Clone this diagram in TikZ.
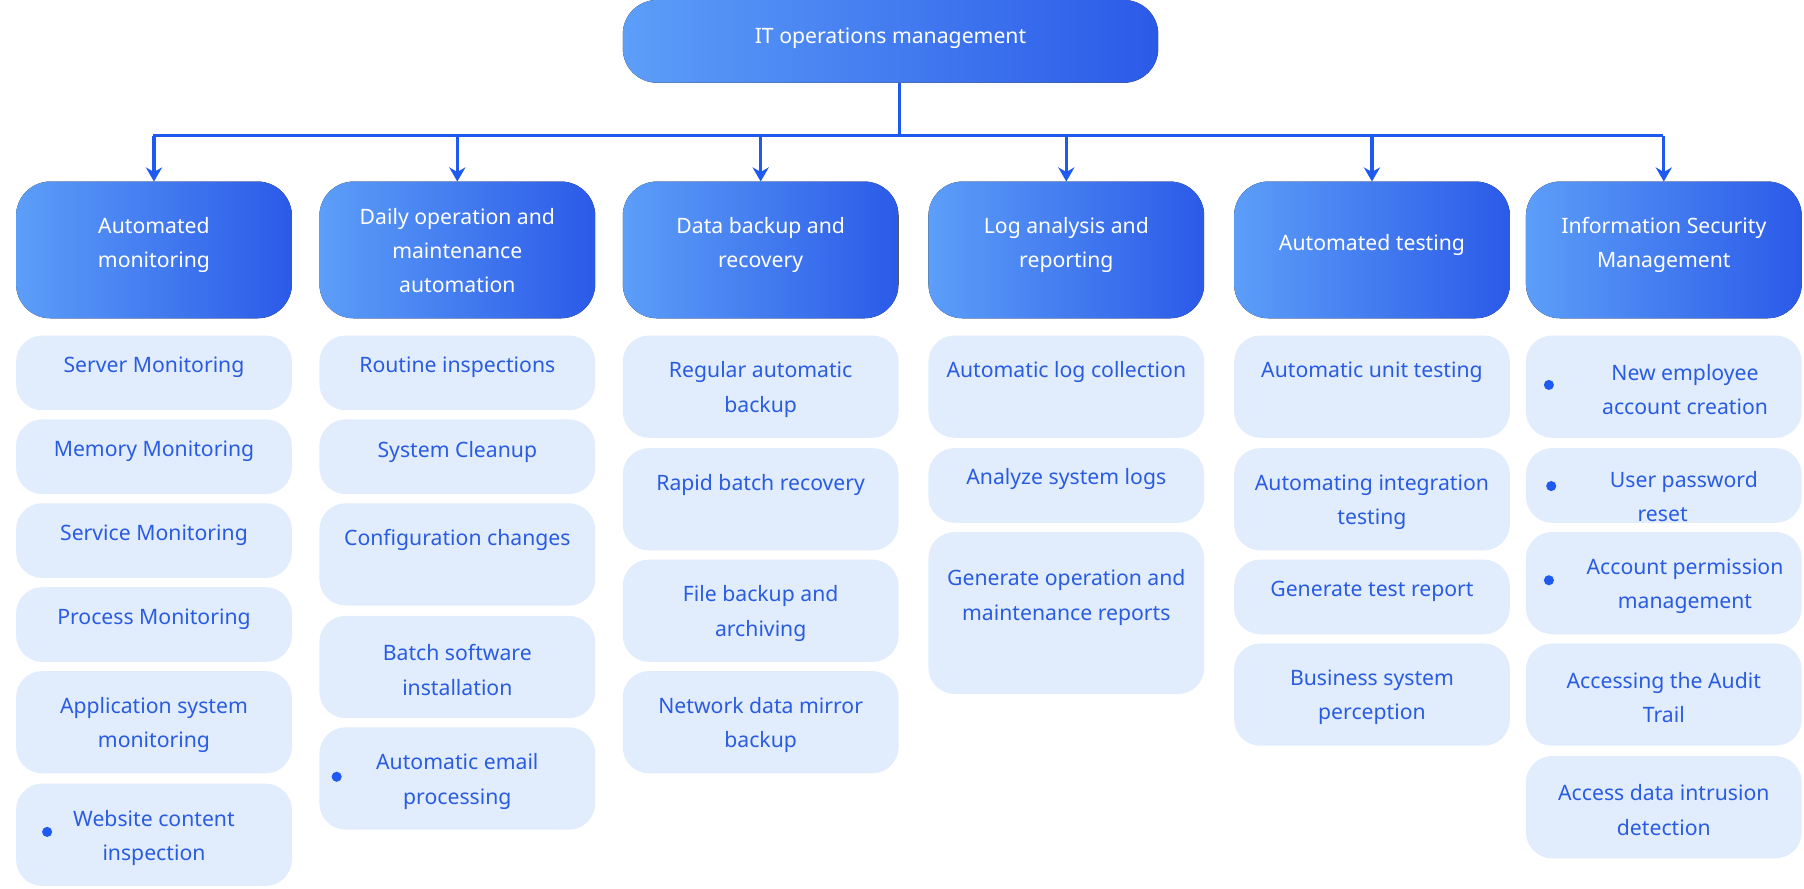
\documentclass[tikz,border=0pt]{standalone}
\usepackage{fontspec}
\setmainfont{Noto Sans}
\usetikzlibrary{positioning,arrows.meta}
\definecolor{hdA}{HTML}{5C9EF8}
\definecolor{hdB}{HTML}{2B5AE8}
\definecolor{itemfill}{HTML}{E1ECFC}
\definecolor{itemtext}{HTML}{2A5CE2}
\definecolor{linkblue}{HTML}{1F5AF0}
\tikzset{
  headbox/.style={rounded corners=17pt, left color=hdA, right color=hdB, draw=none},
  headtext/.style={text=white, align=center, font=\fontsize{10.5}{17}\selectfont},
  itembox/.style={rounded corners=13pt, fill=itemfill, draw=none},
  itemtext/.style={text=itemtext, align=center, font=\fontsize{10.5}{17}\selectfont},
  dot/.style={circle, fill=linkblue, inner sep=0pt, minimum size=5pt},
  link/.style={draw=linkblue, line width=1.6pt},
}
% x, top, bottom, text centre, name, text
\newcommand\subbox[6]{%
  \fill[itembox] (#1,#2) rectangle ++(240,#3-#2);
  \node[itemtext] (#5) at (#1+120,#4) {#6};}
\begin{document}
\begin{tikzpicture}[x=0.02cm,y=-0.02cm]
\useasboundingbox (0,0) rectangle (1570,773);
% top
\fill[headbox] (542,0) rectangle (1008,72);
\node[headtext] (root) at (775,33) {IT operations management};
\coordinate (split) at (783,118);
\draw[link] (783,72) -- (split);
\draw[link] (133,118) -- (1447,118);
% column headers
\foreach \x/\n/\t/\ty in {14/mon/{Automated\\monitoring}/213,
  278/daily/{Daily operation and\\maintenance\\automation}/218,
  542/bak/{Data backup and\\recovery}/213,
  808/log/{Log analysis and\\reporting}/213,
  1074/test/{Automated testing}/213,
  1328/sec/{Information Security\\Management}/213}{
  \fill[headbox] (\x,158) rectangle ++(240,119);
  \node[headtext] (\n) at (\x+120,\ty) {\t};
  \draw[link,-{Stealth[length=7pt,width=8pt]}] (\x+120,118) -- (\x+120,158);
}
% automated monitoring
\subbox{14}{292}{357}{320}{m1}{Server Monitoring}
\subbox{14}{365}{430}{393}{m2}{Memory Monitoring}
\subbox{14}{438}{503}{466}{m3}{Service Monitoring}
\subbox{14}{511}{576}{539}{m4}{Process Monitoring}
\subbox{14}{584}{673}{631}{m5}{Application system\\monitoring}
\subbox{14}{682}{771}{729}{m6}{Website content\\inspection}
\node[dot] at (41,724) {};
% daily operation
\subbox{278}{292}{357}{320}{d1}{Routine inspections}
\subbox{278}{365}{430}{393}{d2}{System Cleanup}
\subbox{278}{438}{527}{470}{d3}{Configuration changes}
\subbox{278}{536}{625}{583}{d4}{Batch software\\installation}
\subbox{278}{633}{722}{680}{d5}{Automatic email\\processing}
\node[dot] at (293,676) {};
% backup
\subbox{542}{292}{381}{339}{b1}{Regular automatic\\backup}
\subbox{542}{390}{479}{422}{b2}{Rapid batch recovery}
\subbox{542}{487}{576}{534}{b3}{File backup and\\archiving}
\subbox{542}{584}{673}{631}{b4}{Network data mirror\\backup}
% logs
\subbox{808}{292}{381}{324}{l1}{Automatic log collection}
\subbox{808}{390}{455}{417}{l2}{Analyze system logs}
\subbox{808}{463}{604}{520}{l3}{Generate operation and\\maintenance reports}
% testing
\subbox{1074}{292}{381}{324}{t1}{Automatic unit testing}
\subbox{1074}{390}{479}{437}{t2}{Automating integration\\testing}
\subbox{1074}{487}{552}{515}{t3}{Generate test report}
\subbox{1074}{560}{649}{607}{t4}{Business system\\perception}
% security
\subbox{1328}{292}{381}{339}{s1}{\hspace*{2em}New employee\\\hspace*{2em}account creation}
\node[dot] at (1348,335) {};
\fill[itembox] (1328,390) rectangle ++(240,65);
\node[itemtext] (s2) at (1447,432) {\hspace*{2em}User password\\reset};
\node[dot] at (1350,423) {};
\subbox{1328}{463}{552}{510}{s3}{\hspace*{2em}Account permission\\\hspace*{2em}management}
\node[dot] at (1348,505) {};
\subbox{1328}{560}{649}{607}{s4}{Accessing the Audit\\Trail}
\subbox{1328}{658}{747}{705}{s5}{Access data intrusion\\detection}
\end{tikzpicture}
\end{document}
